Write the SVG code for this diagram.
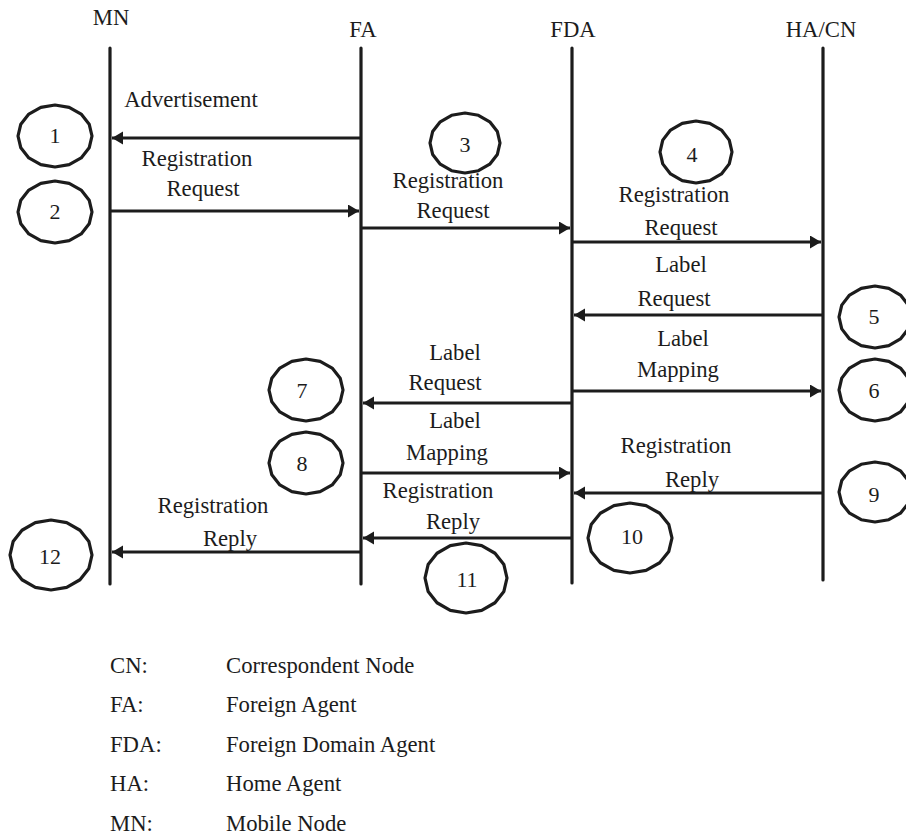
<svg xmlns="http://www.w3.org/2000/svg" xmlns:xlink="http://www.w3.org/1999/xlink" width="906" height="836" viewBox="0 0 906 836">
  <style>
    text { font-family: "Liberation Serif", "Times New Roman", serif; font-size: 22.7px; fill: #1c1c1c; }
    .c { text-anchor: middle; }
    .num { text-anchor: middle; font-size: 22px; }
    .life { stroke: #1c1c1c; stroke-width: 3.2; stroke-linecap: round; fill: none; }
    .msg { stroke: #1c1c1c; stroke-width: 3.2; fill: none; marker-end: url(#head); }
    .blob { fill: none; stroke: #1c1c1c; stroke-width: 3.2; stroke-linejoin: round; }
  </style>
  <defs>
    <marker id="head" markerUnits="userSpaceOnUse" markerWidth="12" markerHeight="14" refX="11" refY="6.5" orient="auto">
      <path d="M0,0 L11,6.5 L0,13 Z" fill="#1c1c1c"/>
    </marker>
    <!-- faceted step marker, scaled per use -->
    <polygon id="blob" class="blob" vector-effect="non-scaling-stroke"
      points="1,0 .924,.383 .707,.707 .383,.924 0,1 -.383,.924 -.707,.707 -.924,.383 -1,0 -.924,-.383 -.707,-.707 -.383,-.924 0,-1 .383,-.924 .707,-.707 .924,-.383"/>
  </defs>

  <rect width="906" height="836" fill="#ffffff"/>

  <!-- lifelines -->
  <g id="node-MN">
    <text class="c" x="111" y="25">MN</text>
    <line class="life" x1="110" y1="48" x2="110" y2="584"/>
  </g>
  <g id="node-FA">
    <text class="c" x="363" y="37">FA</text>
    <line class="life" x1="361" y1="48" x2="361" y2="584"/>
  </g>
  <g id="node-FDA">
    <text class="c" x="573" y="37">FDA</text>
    <line class="life" x1="572" y1="48" x2="572" y2="583"/>
  </g>
  <g id="node-HACN">
    <text class="c" x="821" y="37">HA/CN</text>
    <line class="life" x1="823" y1="48" x2="823" y2="580"/>
  </g>

  <!-- messages -->
  <g id="connectors">
    <line class="msg" x1="361" y1="138" x2="112" y2="138"/>
    <line class="msg" x1="110" y1="211" x2="359" y2="211"/>
    <line class="msg" x1="361" y1="228" x2="570" y2="228"/>
    <line class="msg" x1="572" y1="242" x2="821" y2="242"/>
    <line class="msg" x1="823" y1="315" x2="574" y2="315"/>
    <line class="msg" x1="572" y1="391" x2="821" y2="391"/>
    <line class="msg" x1="572" y1="403" x2="363" y2="403"/>
    <line class="msg" x1="361" y1="473" x2="570" y2="473"/>
    <line class="msg" x1="823" y1="493" x2="574" y2="493"/>
    <line class="msg" x1="572" y1="538" x2="363" y2="538"/>
    <line class="msg" x1="361" y1="552" x2="112" y2="552"/>
  </g>

  <!-- message labels -->
  <g id="labels">
    <text class="c" x="191" y="107">Advertisement</text>
    <text class="c" x="197" y="166">Registration</text>
    <text class="c" x="203" y="196">Request</text>
    <text class="c" x="448" y="188">Registration</text>
    <text class="c" x="453" y="218">Request</text>
    <text class="c" x="674" y="202">Registration</text>
    <text class="c" x="681" y="235">Request</text>
    <text class="c" x="681" y="272">Label</text>
    <text class="c" x="674" y="306">Request</text>
    <text class="c" x="683" y="346">Label</text>
    <text class="c" x="678" y="377">Mapping</text>
    <text class="c" x="455" y="360">Label</text>
    <text class="c" x="445" y="390">Request</text>
    <text class="c" x="455" y="428">Label</text>
    <text class="c" x="447" y="460">Mapping</text>
    <text class="c" x="676" y="453">Registration</text>
    <text class="c" x="692" y="487">Reply</text>
    <text class="c" x="438" y="498">Registration</text>
    <text class="c" x="453" y="529">Reply</text>
    <text class="c" x="213" y="513">Registration</text>
    <text class="c" x="230" y="546">Reply</text>
  </g>

  <!-- step numbers -->
  <g id="step-1"><use xlink:href="#blob" transform="translate(55,136) scale(37,31)"/><text class="num" x="55" y="143">1</text></g>
  <g id="step-2"><use xlink:href="#blob" transform="translate(55,212) scale(37,31)"/><text class="num" x="55" y="219">2</text></g>
  <g id="step-3"><use xlink:href="#blob" transform="translate(465,143) scale(35,30)"/><text class="num" x="465" y="152">3</text></g>
  <g id="step-4"><use xlink:href="#blob" transform="translate(696,152) scale(36,31)"/><text class="num" x="692" y="162">4</text></g>
  <g id="step-5"><use xlink:href="#blob" transform="translate(875,317) scale(36,31)"/><text class="num" x="874" y="324">5</text></g>
  <g id="step-6"><use xlink:href="#blob" transform="translate(875,390) scale(36,31)"/><text class="num" x="874" y="398">6</text></g>
  <g id="step-7"><use xlink:href="#blob" transform="translate(306,390) scale(37,31)"/><text class="num" x="302" y="398">7</text></g>
  <g id="step-8"><use xlink:href="#blob" transform="translate(306,463) scale(37,31)"/><text class="num" x="302" y="471">8</text></g>
  <g id="step-9"><use xlink:href="#blob" transform="translate(875,492) scale(36,30)"/><text class="num" x="874" y="502">9</text></g>
  <g id="step-10"><use xlink:href="#blob" transform="translate(630,538) scale(42,35)"/><text class="num" x="632" y="544">10</text></g>
  <g id="step-11"><use xlink:href="#blob" transform="translate(466,578) scale(41,35)"/><text class="num" x="467" y="587">11</text></g>
  <g id="step-12"><use xlink:href="#blob" transform="translate(51,555) scale(41,35)"/><text class="num" x="50" y="564">12</text></g>

  <!-- legend -->
  <g id="legend">
    <text x="110" y="673">CN:</text><text x="226" y="673">Correspondent Node</text>
    <text x="110" y="712">FA:</text><text x="226" y="712">Foreign Agent</text>
    <text x="110" y="752">FDA:</text><text x="226" y="752">Foreign Domain Agent</text>
    <text x="110" y="791">HA:</text><text x="226" y="791">Home Agent</text>
    <text x="110" y="831">MN:</text><text x="226" y="831">Mobile Node</text>
  </g>
</svg>
